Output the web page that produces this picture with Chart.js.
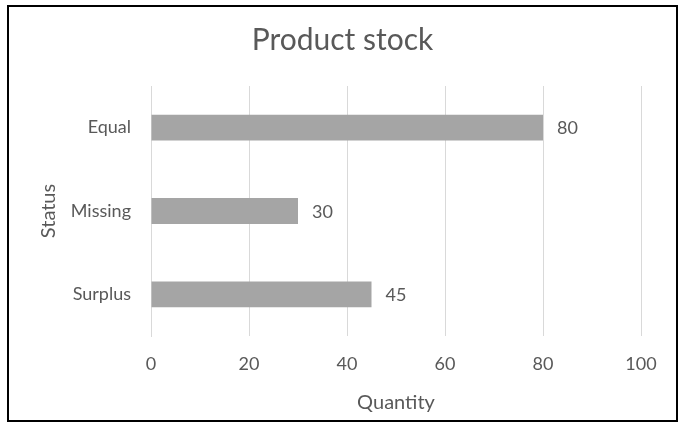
<!DOCTYPE html>
<html>
<head>
<meta charset="utf-8">
<script src="https://cdn.jsdelivr.net/npm/chart.js@4/dist/chart.umd.min.js"></script>
<style>
  html, body { margin: 0; padding: 0; background: #fff; }
  #frame {
    position: absolute; left: 7px; top: 5px;
    width: 667px; height: 413px;
    border: 2px solid #000;
  }
  canvas { display: block; }
</style>
</head>
<body>
<div id="frame"><canvas id="stockChart" width="667" height="413"></canvas></div>
<script>
// stock levels per status
const statuses = ['Equal', 'Missing', 'Surplus'];
const quantities = [80, 30, 45];
const xTicks = [0, 20, 40, 60, 80, 100];

const textGrey = '#595959';
const fontFamily = 'Lato, "Open Sans", sans-serif';

// prints each bar's value just past its end
const valueLabels = {
  id: 'valueLabels',
  afterDatasetsDraw(chart) {
    const c = chart.ctx;
    const meta = chart.getDatasetMeta(0);
    c.save();
    c.font = '18px ' + fontFamily;
    c.fillStyle = textGrey;
    c.textAlign = 'left';
    c.textBaseline = 'middle';
    meta.data.forEach((bar, i) => {
      c.fillText(String(quantities[i]), bar.x + 14, bar.y + 1);
    });
    c.restore();
  }
};

const ctx = document.getElementById('stockChart').getContext('2d');
new Chart(ctx, {
  type: 'bar',
  data: {
    labels: statuses,
    datasets: [{
      data: quantities,
      backgroundColor: '#a5a5a5',
      borderWidth: 0,
      categoryPercentage: 1,
      barPercentage: 0.31
    }]
  },
  options: {
    indexAxis: 'y',
    responsive: false,
    animation: false,
    // equal side padding keeps the title centred on the canvas
    layout: { padding: { left: 35, right: 35, top: 15, bottom: 0 } },
    plugins: {
      legend: { display: false },
      tooltip: { enabled: false },
      title: {
        display: true,
        text: 'Product stock',
        color: textGrey,
        font: { family: fontFamily, size: 30, weight: 'normal', lineHeight: 1.2 },
        padding: { top: 0, bottom: 28 }
      }
    },
    scales: {
      x: {
        min: 0,
        max: 100,
        afterBuildTicks(axis) { axis.ticks = xTicks.map(v => ({ value: v })); },
        afterFit(axis) { axis.height = 84; },
        grid: { color: '#d9d9d9', lineWidth: 1, drawTicks: false },
        border: { display: false },
        ticks: { color: textGrey, padding: 17, font: { family: fontFamily, size: 18 } },
        title: {
          display: true,
          text: 'Quantity',
          color: textGrey,
          font: { family: fontFamily, size: 20, lineHeight: 1.2 },
          padding: { top: 0, bottom: 5 }
        }
      },
      y: {
        afterFit(axis) { axis.width = 107; },
        grid: { display: false, drawTicks: false },
        border: { display: true, color: '#d9d9d9' },
        ticks: { color: textGrey, padding: 20, font: { family: fontFamily, size: 18 } },
        title: {
          display: true,
          text: 'Status',
          color: textGrey,
          font: { family: fontFamily, size: 20, lineHeight: 1.2 },
          padding: { top: -7, bottom: 0 }
        }
      }
    }
  },
  plugins: [valueLabels]
});
</script>
</body>
</html>
